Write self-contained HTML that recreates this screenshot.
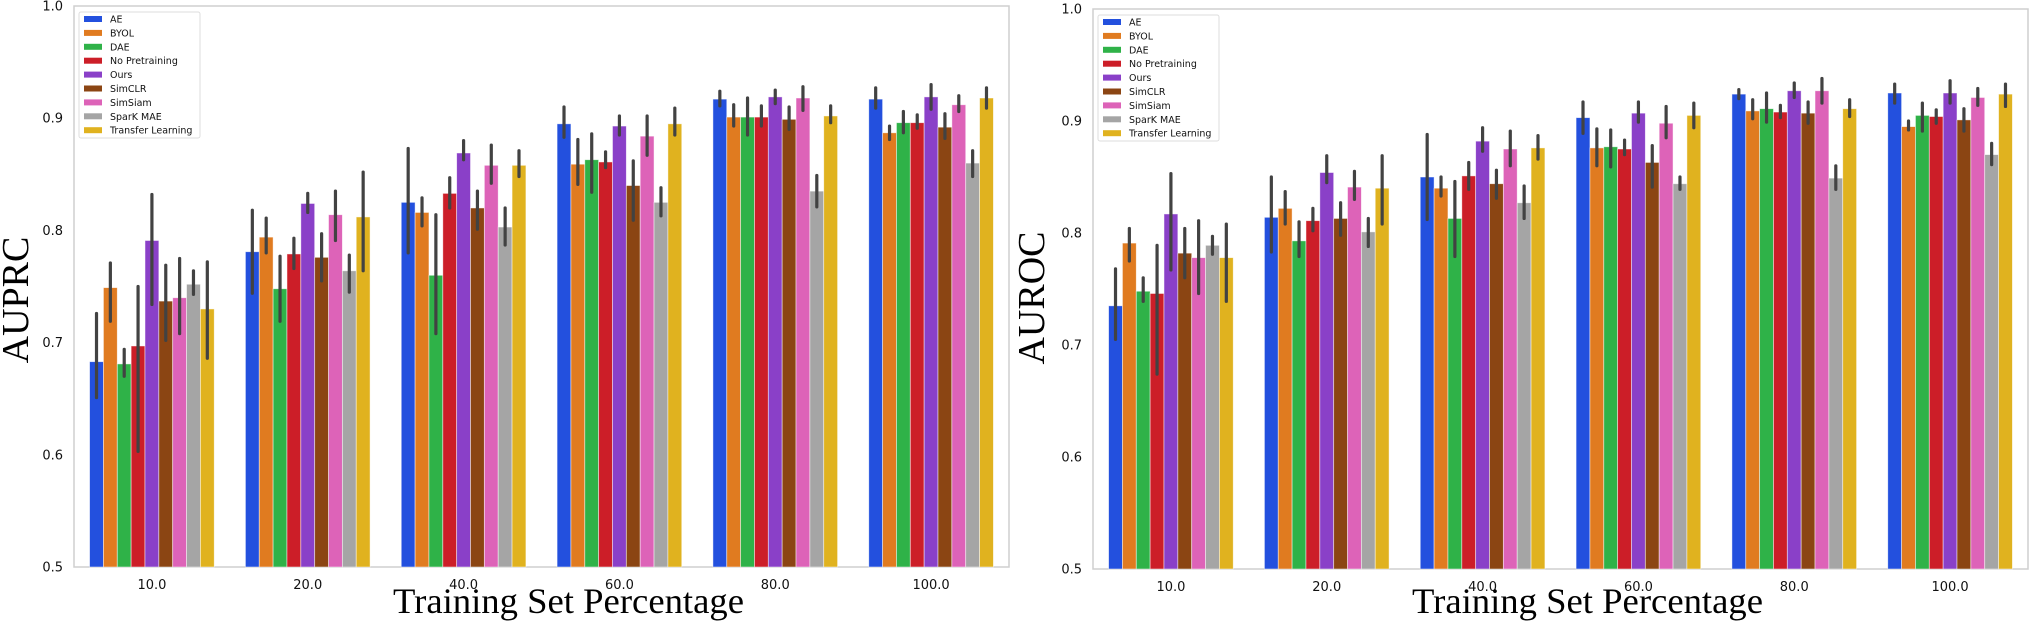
<!DOCTYPE html>
<html><head><meta charset="utf-8">
<style>
html,body{margin:0;padding:0;background:#fff;}
svg{display:block;}
</style></head>
<body>
<svg id="fig" width="2030" height="623" viewBox="0 0 2030 623" xmlns="http://www.w3.org/2000/svg"></svg>
<script>
const categories = ["10.0","20.0","40.0","60.0","80.0","100.0"];
const methods = ["AE","BYOL","DAE","No Pretraining","Ours","SimCLR","SimSiam","SparK MAE","Transfer Learning"];
const colors = ["#2350de","#e07b20","#2fb248","#cc1e28","#8a40c8","#8b4513","#dd63b8","#a5a5a5","#e0b21f"];
const yTicks = [0.5,0.6,0.7,0.8,0.9,1.0];
const yTickLabels = ["0.5","0.6","0.7","0.8","0.9","1.0"];

// AUPRC: [category][method]
const auprcValues = [
 [0.683,0.749,0.681,0.697,0.791,0.737,0.740,0.752,0.730],
 [0.781,0.794,0.748,0.779,0.824,0.776,0.814,0.764,0.812],
 [0.825,0.816,0.760,0.833,0.869,0.820,0.858,0.803,0.858],
 [0.895,0.859,0.863,0.861,0.893,0.840,0.884,0.825,0.895],
 [0.917,0.901,0.901,0.901,0.919,0.899,0.918,0.835,0.902],
 [0.917,0.887,0.896,0.896,0.919,0.892,0.912,0.860,0.918]
];
const auprcLow = [
 [0.651,0.719,0.670,0.603,0.734,0.702,0.708,0.743,0.686],
 [0.744,0.780,0.719,0.766,0.816,0.755,0.791,0.745,0.764],
 [0.780,0.804,0.708,0.820,0.863,0.801,0.842,0.787,0.848],
 [0.883,0.841,0.834,0.856,0.885,0.809,0.867,0.813,0.885],
 [0.911,0.893,0.885,0.893,0.913,0.890,0.907,0.821,0.896],
 [0.909,0.881,0.887,0.891,0.908,0.882,0.906,0.848,0.909]
];
const auprcHigh = [
 [0.726,0.771,0.694,0.750,0.832,0.769,0.775,0.764,0.772],
 [0.818,0.811,0.777,0.793,0.833,0.797,0.835,0.778,0.852],
 [0.873,0.829,0.814,0.847,0.880,0.835,0.876,0.820,0.871],
 [0.910,0.881,0.886,0.870,0.902,0.862,0.902,0.838,0.909],
 [0.924,0.912,0.918,0.911,0.925,0.910,0.928,0.849,0.911],
 [0.927,0.893,0.906,0.903,0.930,0.904,0.920,0.871,0.927]
];
// AUROC
const aurocValues = [
 [0.735,0.791,0.748,0.746,0.817,0.782,0.778,0.789,0.778],
 [0.814,0.822,0.793,0.811,0.854,0.813,0.841,0.801,0.840],
 [0.850,0.840,0.813,0.851,0.882,0.844,0.875,0.827,0.876],
 [0.903,0.876,0.877,0.875,0.907,0.863,0.898,0.844,0.905],
 [0.924,0.909,0.911,0.908,0.927,0.907,0.927,0.849,0.911],
 [0.925,0.895,0.905,0.904,0.925,0.901,0.921,0.870,0.924]
];
const aurocLow = [
 [0.705,0.775,0.739,0.674,0.767,0.760,0.746,0.781,0.739],
 [0.783,0.808,0.779,0.802,0.845,0.798,0.830,0.788,0.808],
 [0.812,0.833,0.779,0.839,0.873,0.831,0.860,0.813,0.866],
 [0.889,0.860,0.859,0.870,0.899,0.841,0.885,0.839,0.894],
 [0.920,0.902,0.899,0.903,0.921,0.898,0.916,0.839,0.904],
 [0.916,0.892,0.891,0.898,0.916,0.891,0.914,0.861,0.913]
];
const aurocHigh = [
 [0.768,0.804,0.760,0.789,0.853,0.804,0.811,0.797,0.808],
 [0.850,0.837,0.810,0.822,0.869,0.827,0.855,0.813,0.869],
 [0.888,0.850,0.846,0.863,0.894,0.856,0.891,0.842,0.887],
 [0.917,0.893,0.892,0.883,0.917,0.878,0.913,0.850,0.916],
 [0.928,0.919,0.925,0.914,0.934,0.917,0.938,0.860,0.919],
 [0.933,0.900,0.916,0.910,0.936,0.911,0.929,0.880,0.933]
];

const NS = "http://www.w3.org/2000/svg";
const svg = document.getElementById('fig');
function mk(tag, attrs, parent){
  const e = document.createElementNS(NS, tag);
  for (const k in attrs) e.setAttribute(k, attrs[k]);
  (parent||svg).appendChild(e);
  return e;
}

function drawPanel(cfg){
  const g = mk('g', {});
  
  
  const L = cfg.left, R = cfg.right, T = cfg.top, B = cfg.bottom;
  const yScale = v => B - (v - 0.5) / 0.5 * (B - T);
  const groupW = (R - L) / categories.length;
  const xCenter = i => L + groupW * (i + 0.5);
  const barW = groupW * 0.8 / methods.length;

  // spines
  const frame = mk('rect', {x:L, y:T, width:R-L, height:B-T, fill:'none', stroke:'#cfcfcf', 'stroke-width':1.5}, g);
  
  

  // y ticks
  yTicks.forEach((t, i) => {
    const tx = mk('text', {x:L-11, y:yScale(t)+4.5, 'text-anchor':'end', 'font-family':'DejaVu Sans, sans-serif', 'font-size':13, fill:'#111'}, g);
    tx.textContent = yTickLabels[i];
    
    
  });
  // x ticks
  categories.forEach((c, i) => {
    const tx = mk('text', {x:xCenter(i), y:B+22, 'text-anchor':'middle', 'font-family':'DejaVu Sans, sans-serif', 'font-size':13, fill:'#111'}, g);
    tx.textContent = c;
    
    
  });

  // bars
  categories.forEach((c, ci) => {
    methods.forEach((m, mi) => {
      const v = cfg.values[ci][mi];
      const x0 = xCenter(ci) - groupW*0.4 + barW*mi;
      const r = mk('rect', {x:x0, y:yScale(v), width:barW, height:B - yScale(v), fill:colors[mi], stroke:'#ffffff', 'stroke-width':0.8, 'stroke-opacity':0.6}, g);
      
      
      const ln = mk('line', {x1:x0+barW/2, x2:x0+barW/2, y1:yScale(cfg.low[ci][mi]), y2:yScale(cfg.high[ci][mi]), stroke:'#424242', 'stroke-width':3.2, 'stroke-linecap':'round'}, g);
      
      
    });
  });

  // y label
  const yl = mk('text', {x:0, y:0, transform:`translate(${cfg.ylabelX},${cfg.ylabelY}) rotate(-90)`, 'text-anchor':'middle', 'font-family':'Liberation Serif, serif', 'font-size':38, fill:'#000'}, g);
  yl.textContent = cfg.ylabel;
  
  
  // x label
  const xl = mk('text', {x:cfg.xlabelX, y:613, 'font-family':'Liberation Serif, serif', 'font-size':36, fill:'#000', textLength:351, lengthAdjust:'spacingAndGlyphs'}, g);
  xl.textContent = 'Training Set Percentage';
  
  

  // legend
  const lg = mk('g', {}, g);
  
  
  mk('rect', {x:L+5, y:T+6, width:121, height:126, fill:'#fff', 'fill-opacity':0.85, stroke:'#dddddd', 'stroke-width':1, rx:2}, lg);
  methods.forEach((m, mi) => {
    const yy = T + 13 + mi*13.9;
    const e = mk('g', {}, lg);
    
    
    mk('rect', {x:L+10, y:yy-3, width:18, height:6, fill:colors[mi]}, e);
    const t = mk('text', {x:L+36, y:yy+3.5, 'font-family':'DejaVu Sans, sans-serif', 'font-size':9.5, fill:'#111'}, e);
    t.textContent = m;
  });
}

drawPanel({name:'auprc-chart', left:74, right:1009, top:6, bottom:567, values:auprcValues, low:auprcLow, high:auprcHigh, ylabel:'AUPRC', ylabelX:28, ylabelY:300, xlabelX:393});
drawPanel({name:'auroc-chart', left:1093, right:2028, top:9, bottom:569, values:aurocValues, low:aurocLow, high:aurocHigh, ylabel:'AUROC', ylabelX:1044, ylabelY:298, xlabelX:1412});
</script>
</body></html>
